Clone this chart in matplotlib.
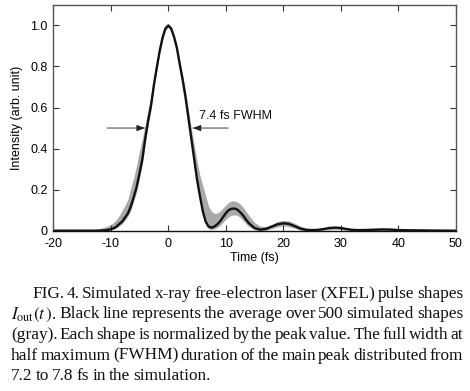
import matplotlib
matplotlib.use('Agg')
import matplotlib.pyplot as plt
import numpy as np

plt.rcParams['font.family'] = ['Liberation Sans', 'DejaVu Sans']
plt.rcParams['mathtext.fontset'] = 'stix'
plt.rcParams['axes.unicode_minus'] = False

# values (time in fs, normalized intensity)
t = [-20, -17, -15, -14, -13, -12, -11, -10.5, -10,
     -9.5, -9, -8.5, -8, -7.5, -7, -6.5, -6, -5.5, -5, -4.5, -4, -3.5, -3,
     -2.5, -2, -1.5, -1, -0.5, 0, 0.5, 1, 1.5, 2, 2.5, 3, 3.5, 4, 4.5, 5,
     5.5, 6, 6.5, 7, 7.5, 8, 8.5, 9, 9.5, 10, 10.5, 11, 11.5, 12, 12.5, 13,
     13.5, 14,
     15, 16, 17, 18, 19, 20, 21, 22, 23, 24, 25, 26, 27, 28, 29, 30, 31, 32,
     33, 34, 35, 36, 37, 38, 39, 40, 42, 45, 50]
# black line: average of the simulated shapes
avg = [0, 0, 0, 0, 0, 0.0005, 0.002, 0.004, 0.007,
       0.012, 0.02, 0.033, 0.045, 0.065, 0.085, 0.12, 0.165, 0.214, 0.28,
       0.35, 0.45, 0.535, 0.61, 0.71, 0.795, 0.875, 0.94, 0.985, 1.0, 0.985,
       0.945, 0.89, 0.81, 0.735, 0.65, 0.55, 0.45, 0.35, 0.25, 0.17, 0.095,
       0.045, 0.02, 0.015, 0.02, 0.03, 0.045, 0.065, 0.085, 0.10, 0.107,
       0.108, 0.103, 0.09, 0.075, 0.055, 0.037,
       0.013, 0.005, 0.009, 0.02, 0.031, 0.036, 0.033, 0.022, 0.01, 0.004,
       0.003, 0.004, 0.008, 0.013, 0.015, 0.013, 0.008, 0.004, 0.003, 0.003,
       0.004, 0.005, 0.006, 0.006, 0.005, 0.003, 0.002, 0.001, 0]
# gray envelope of the 500 simulated shapes
upper = [0, 0, 0.001, 0.002, 0.005, 0.01, 0.018, 0.023, 0.03,
         0.04, 0.055, 0.075, 0.10, 0.125, 0.155, 0.21, 0.26, 0.32, 0.39,
         0.45, 0.52, 0.59, 0.66, 0.74, 0.815, 0.89, 0.95, 0.99, 1.0, 0.99,
         0.955, 0.90, 0.83, 0.76, 0.68, 0.59, 0.50, 0.42, 0.34, 0.27, 0.22,
         0.17, 0.12, 0.095, 0.085, 0.085, 0.095, 0.11, 0.125, 0.138, 0.145,
         0.145, 0.14, 0.13, 0.115, 0.095, 0.075,
         0.04, 0.022, 0.02, 0.03, 0.045, 0.05, 0.048, 0.036, 0.022, 0.013,
         0.009, 0.009, 0.013, 0.019, 0.022, 0.02, 0.014, 0.009, 0.007, 0.007,
         0.008, 0.009, 0.009, 0.009, 0.008, 0.006, 0.004, 0.002, 0.001]
lower = [0, 0, 0, 0, 0, 0, 0.001, 0.002, 0.004,
         0.008, 0.014, 0.024, 0.035, 0.052, 0.072, 0.10, 0.145, 0.19, 0.255,
         0.325, 0.43, 0.515, 0.595, 0.695, 0.78, 0.86, 0.925, 0.975, 0.99,
         0.975, 0.93, 0.87, 0.79, 0.715, 0.63, 0.53, 0.43, 0.33, 0.225, 0.145,
         0.075, 0.03, 0.01, 0.005, 0.008, 0.015, 0.025, 0.04, 0.055, 0.068,
         0.075, 0.077, 0.075, 0.065, 0.05, 0.035, 0.02,
         0.005, 0, 0.002, 0.01, 0.019, 0.024, 0.02, 0.012, 0.003, 0,
         0, 0, 0.002, 0.005, 0.007, 0.006, 0.003, 0, 0, 0,
         0, 0.001, 0.002, 0.002, 0.001, 0, 0, 0, 0]

xticks = [-20, -10, 0, 10, 20, 30, 40, 50]
yticks = [0, 0.2, 0.4, 0.6, 0.8, 1.0]
yticklabels = ['0', '0.2', '0.4', '0.6', '0.8', '1.0']

fwhm_left = (-10.6, -4.1)
fwhm_right = (10.4, 4.3)
fwhm_y = 0.5

fig = plt.figure(figsize=(4.7, 3.91), dpi=100)
ax = fig.add_axes([0.1134, 0.410, 0.8562, 0.5775])

ax.fill_between(t, lower, upper, color='#a9a9a9', lw=0)
ax.plot(t, avg, color='#111111', lw=1.7)

# FWHM arrows: gray shaft, dark head
for x0, x1 in (fwhm_left, fwhm_right):
    ax.annotate('', xy=(x1, fwhm_y), xytext=(x0, fwhm_y),
                arrowprops=dict(arrowstyle='-', color='#777777', lw=1.0,
                                shrinkA=0, shrinkB=0))
    ax.annotate('', xy=(x1, fwhm_y), xytext=(x1 + 1.2 * np.sign(x0 - x1), fwhm_y),
                arrowprops=dict(arrowstyle='-|>,head_length=0.45,head_width=0.18',
                                color='#222222', lw=0.8, shrinkA=0, shrinkB=0))
ax.text(5.4, 0.56, '7.4 fs FWHM', fontsize=9, va='center', ha='left', color='#111111')

ax.set_xlim(-20, 50)
ax.set_ylim(0, 1.1)
ax.set_xticks(xticks)
ax.set_yticks(yticks)
ax.set_yticklabels(yticklabels)
ax.tick_params(direction='in', top=True, right=True, length=4, width=0.8,
               labelsize=9, color='#333333')
ax.tick_params(axis='x', pad=5)
ax.tick_params(axis='y', pad=4)
for s in ax.spines.values():
    s.set_color('#555555')
    s.set_linewidth(1.0)
ax.spines['bottom'].set_color('#111111')
ax.set_xlabel('Time (fs)', fontsize=9, labelpad=2)
ax.set_ylabel('Intensity (arb. unit)', fontsize=9, labelpad=5)

# caption, justified by placing words
cap_lines = [
    ('FIG. 4.  Simulated x-ray free-electron laser (XFEL) pulse shapes', 32, True),
    (r'$I_{\mathrm{out}}(t\,)$. Black line represents the average over 500 simulated shapes', 11, True),
    ('(gray). Each shape is normalized by the peak value. The full width at', 11, True),
    ('half maximum (FWHM) duration of the main peak distributed from', 11, True),
    ('7.2 to 7.8 fs in the simulation.', 11, False),
]
base_y = [298, 318.5, 339, 359.5, 380]
right_px = 463
W, H = fig.get_size_inches() * fig.dpi
renderer = fig.canvas.get_renderer()
for (line, x_left, justify), yb in zip(cap_lines, base_y):
    words = [w for w in line.split(' ') if w]
    texts = []
    widths = []
    for w in words:
        tx = fig.text(0, 1 - yb / H, w, fontsize=12.4, family='Liberation Serif',
                      va='baseline', ha='left', color='#111111')
        texts.append(tx)
        widths.append(tx.get_window_extent(renderer).width)
    if justify:
        gap = (right_px - x_left - sum(widths)) / (len(words) - 1)
    else:
        gap = 3.1
    x = x_left
    for tx, wd in zip(texts, widths):
        tx.set_x(x / W)
        x += wd + gap

fig.savefig('out.png', dpi=100)
